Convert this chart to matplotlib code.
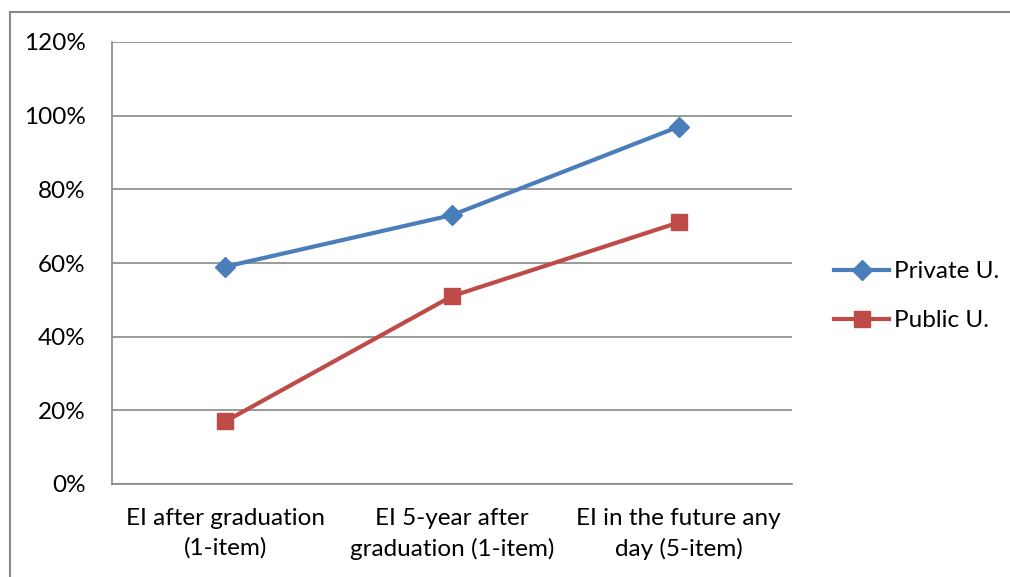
import matplotlib
matplotlib.use("Agg")
import matplotlib.pyplot as plt
from matplotlib.lines import Line2D
from matplotlib.ticker import FuncFormatter

categories = ["EI after graduation\n(1-item)", "EI 5-year after\ngraduation (1-item)", "EI in the future any\nday (5-item)"]
private_u = [59, 73, 97]
public_u = [17, 51, 71]
series_names = ["Private U.", "Public U."]

plt.rcParams['font.family'] = ['Lato', 'DejaVu Sans']
FS = 17.5

fig = plt.figure(figsize=(10.10, 5.77), dpi=100)
ax = fig.add_axes([112/1010, 1-484/577, 680/1010, 442/577])

x = list(range(len(categories)))
ax.plot(x, private_u, color='#4A7EBB', lw=3, marker='D', markersize=10, label=series_names[0], zorder=3)
ax.plot(x, public_u, color='#BE4B48', lw=3, marker='s', markersize=12, label=series_names[1], zorder=3)

ax.set_xlim(-0.5, 2.5)
ax.set_ylim(0, 120)
ax.set_yticks(range(0, 121, 20))
ax.yaxis.set_major_formatter(FuncFormatter(lambda v, p: f"{int(v)}%"))
ax.set_xticks(x)
ax.set_xticklabels(categories, fontsize=FS, linespacing=1.5)
ax.tick_params(axis='y', labelsize=FS, length=0, pad=19)
ax.tick_params(axis='x', length=0, pad=17)
ax.grid(axis='y', color='#888888', lw=1.2)
ax.set_axisbelow(True)
for s in ['top', 'right']:
    ax.spines[s].set_visible(False)
for s in ['left', 'bottom']:
    ax.spines[s].set_color('#888888')
    ax.spines[s].set_linewidth(1.2)

leg = ax.legend(loc='center left', bbox_to_anchor=(1.029, 0.425), frameon=False,
                fontsize=FS, handlelength=2.3, handletextpad=0.2, labelspacing=1.15)

# outer border (left & top)
fig.add_artist(Line2D([10/1010, 10/1010], [0, 1-12/577], color='#888888', lw=1.5, transform=fig.transFigure))
fig.add_artist(Line2D([10/1010, 1], [1-12/577, 1-12/577], color='#888888', lw=1.5, transform=fig.transFigure))

fig.savefig("out.png", dpi=100)
